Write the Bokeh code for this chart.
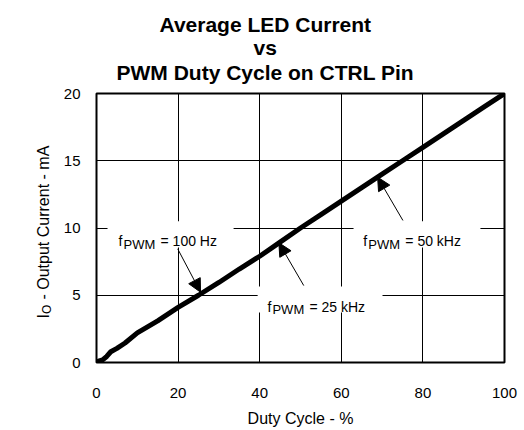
import math
from bokeh.plotting import figure
from bokeh.layouts import row
from bokeh.models import Label, Arrow, NormalHead, FixedTicker, Title, BoxAnnotation
from bokeh.embed import file_html
from bokeh.resources import INLINE

# ---- data ----
duty = [0.5, 1.5, 2.5, 3.5, 5, 7, 10, 15, 20, 25, 30, 35, 40, 45, 50, 55,
        60, 65, 70, 75, 80, 85, 90, 95, 99.5]
current = [0.1, 0.2, 0.45, 0.8, 1.05, 1.45, 2.2, 3.1, 4.1, 5.0, 5.95, 6.95,
           7.9, 8.95, 10.0, 11.0, 12.0, 13.0, 14.0, 15.0, 16.0, 17.0, 18.0,
           19.0, 19.9]
x_ticks = [0, 20, 40, 60, 80, 100]
y_ticks = [0, 5, 10, 15, 20]
title_lines = ["Average LED Current", "vs", "PWM Duty Cycle on CTRL Pin"]
x_label = "Duty Cycle - %"
y_label = ("I", "O", "- Output Current - mA")

# annotation labels: text pieces, anchor (data) and white box (data)
notes = [("f", "PWM", "= 100 Hz", 5.4, 9.02, (2.7, 33.6, 8.55, 10.5)),
         ("f", "PWM", "= 25 kHz", 41.9, 4.16, (39.5, 70.1, 3.72, 5.65)),
         ("f", "PWM", "= 50 kHz", 65.4, 9.02, (63.0, 94.1, 8.55, 10.5))]
arrows = [(19.9, 8.45, 25.5, 5.23),
          (50.8, 5.72, 44.7, 8.9),
          (75.1, 10.56, 68.9, 13.78)]

FONT = "Liberation Sans"
W, H = 524, 430
SIDE_W = 60

# ---- side figure holding the rotated y-axis label ----
side = figure(width=SIDE_W, height=H, x_range=(0, SIDE_W), y_range=(0, H),
              output_backend="svg", toolbar_location=None, title=None,
              x_axis_type=None, y_axis_type=None,
              min_border_left=0, min_border_right=0, min_border_top=0,
              min_border_bottom=0)
side.outline_line_color = None
side.grid.visible = False
side.border_fill_color = "white"
base_x, start_y = 43, 44
side.add_layout(Label(x=base_x, y=start_y, x_units="screen", y_units="screen",
                      text=y_label[0], angle=math.pi / 2, text_font=FONT,
                      text_font_size="16px", text_align="left",
                      text_baseline="alphabetic", text_color="black"))
side.add_layout(Label(x=base_x + 3, y=start_y + 4.6, x_units="screen",
                      y_units="screen", text=y_label[1], angle=math.pi / 2,
                      text_font=FONT, text_font_size="12px", text_align="left",
                      text_baseline="alphabetic", text_color="black"))
side.add_layout(Label(x=base_x, y=start_y + 19, x_units="screen",
                      y_units="screen", text=y_label[2], angle=math.pi / 2,
                      text_font=FONT, text_font_size="16px", text_align="left",
                      text_baseline="alphabetic", text_color="black"))

# ---- main figure ----
p = figure(width=W - SIDE_W, height=H, x_range=(0, 100), y_range=(0, 20),
           output_backend="svg", toolbar_location=None, title=None,
           min_border_left=96 - SIDE_W, min_border_right=W - 96 - 408,
           min_border_top=93, min_border_bottom=H - 93 - 269)
p.background_fill_color = "white"
p.border_fill_color = "white"
p.outline_line_color = "black"
p.outline_line_width = 2

# title lines, added bottom-up (first added sits next to the plot)
title_offsets = [63, 157, 20]
title_standoffs = [18, -21, 20]
for i in (2, 1, 0):
    p.add_layout(Title(text=title_lines[i], align="left",
                       offset=title_offsets[i], standoff=title_standoffs[i],
                       text_font=FONT, text_font_size="21px",
                       text_font_style="bold", text_color="black"), "above")

for ax in (p.xaxis, p.yaxis):
    ax.major_tick_line_color = None
    ax.minor_tick_line_color = None
    ax.axis_line_color = None
    ax.major_label_text_font = FONT
    ax.major_label_text_font_size = "15px"
    ax.major_label_text_color = "black"

p.xaxis.ticker = FixedTicker(ticks=x_ticks)
p.yaxis.ticker = FixedTicker(ticks=y_ticks)
p.xaxis.major_label_standoff = 19
p.yaxis.major_label_standoff = 10
p.xaxis.axis_label = x_label
p.xaxis.axis_label_text_font = FONT
p.xaxis.axis_label_text_font_size = "16px"
p.xaxis.axis_label_text_font_style = "normal"
p.xaxis.axis_label_standoff = 9
p.xaxis.axis_label_text_color = "black"

p.xgrid.ticker = FixedTicker(ticks=x_ticks)
p.ygrid.ticker = FixedTicker(ticks=y_ticks)
for g in (p.xgrid, p.ygrid):
    g.grid_line_color = "black"
    g.grid_line_width = 1
    g.grid_line_alpha = 1

# the curve
p.line(duty, current, line_color="black", line_width=5, line_join="round",
       line_cap="round")

# white boxes behind the annotation texts
for _, _, _, _, _, (bl, br, bb, bt) in notes:
    p.add_layout(BoxAnnotation(left=bl, right=br, bottom=bb, top=bt,
                               fill_color="white", fill_alpha=1,
                               line_color=None, level="annotation"))

# arrows
for x0, y0, x1, y1 in arrows:
    p.add_layout(Arrow(x_start=x0, y_start=y0, x_end=x1, y_end=y1,
                       line_color="black", line_width=1,
                       end=NormalHead(size=13, fill_color="black",
                                      line_color="black")))

# annotation texts
for main, sub, rest, lx, ly, _ in notes:
    p.add_layout(Label(x=lx, y=ly, text=main, text_font=FONT,
                       text_font_size="14px", text_color="black",
                       text_baseline="alphabetic"))
    p.add_layout(Label(x=lx, y=ly, x_offset=5, y_offset=-3, text=sub,
                       text_font=FONT, text_font_size="13px",
                       text_color="black", text_baseline="alphabetic"))
    p.add_layout(Label(x=lx, y=ly, x_offset=42, text=rest, text_font=FONT,
                       text_font_size="14px", text_color="black",
                       text_baseline="alphabetic"))

layout = row(side, p, spacing=0)
open("out.html", "w").write(file_html(layout, INLINE))
